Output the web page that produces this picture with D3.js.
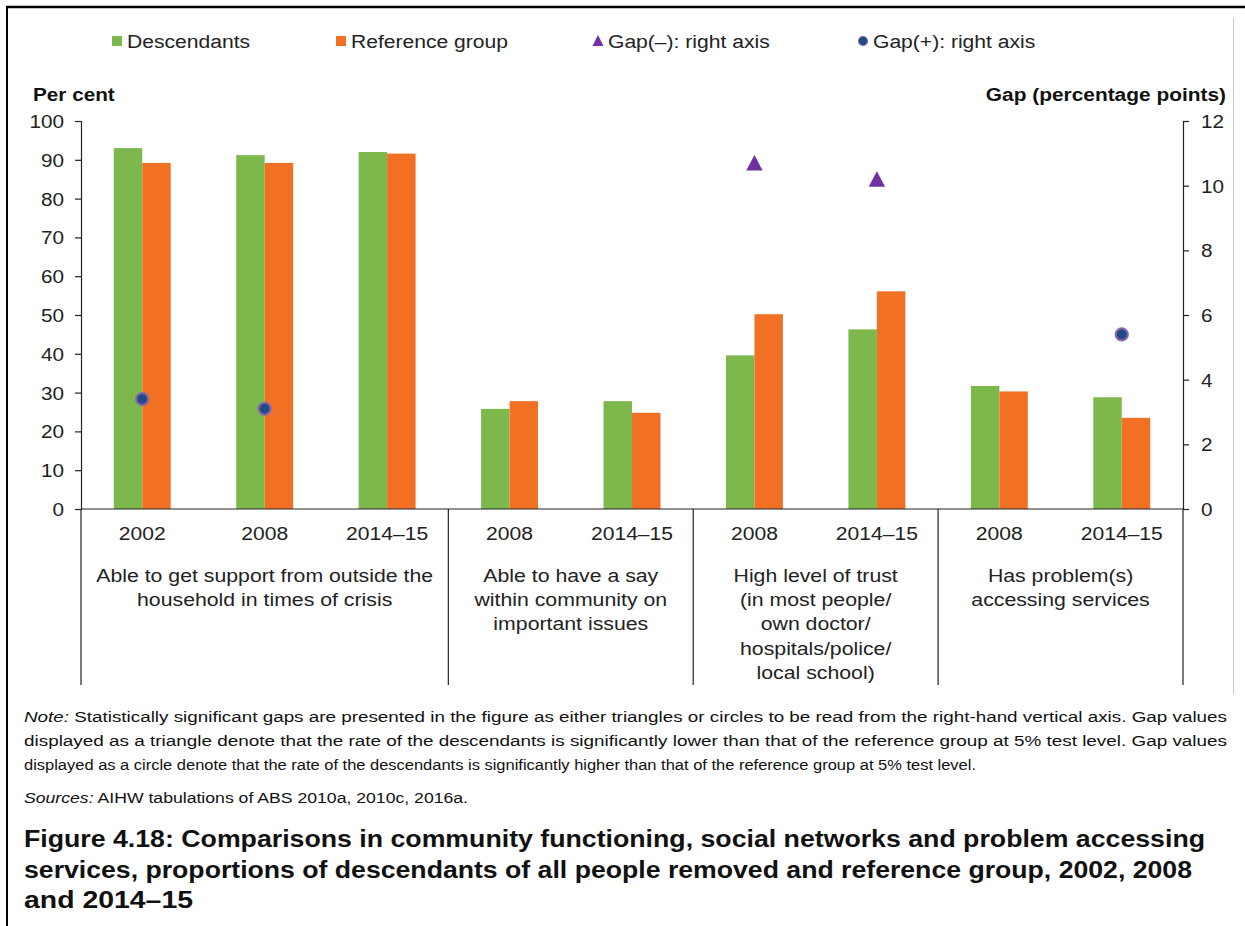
<!DOCTYPE html>
<html>
<head>
<meta charset="utf-8">
<script src="https://cdn.jsdelivr.net/npm/d3@7"></script>
<style>
  body { margin: 0; background: #fff; }
  svg { font-family: "Liberation Sans", Arial, sans-serif; display: block; }
</style>
</head>
<body>
<svg width="1245" height="926"></svg>
<script>
// categories and values
var groupLabels = [
    ["Able to get support from outside the", "household in times of crisis"],
    ["Able to have a say", "within community on", "important issues"],
    ["High level of trust", "(in most people/", "own doctor/", "hospitals/police/", "local school)"],
    ["Has problem(s)", "accessing services"]
];
var periods = [["2002", "2008", "2014–15"], ["2008", "2014–15"], ["2008", "2014–15"], ["2008", "2014–15"]];
var descendants = [93.0, 91.2, 92.0, 25.8, 27.8, 39.6, 46.3, 31.7, 28.8];
var reference = [89.2, 89.2, 91.6, 27.8, 24.8, 50.2, 56.1, 30.3, 23.5];
var gapMinus = [null, null, null, null, null, 10.7, 10.2, null, null];
var gapPlus = [3.4, 3.1, null, null, null, null, null, null, 5.4];
var leftTicks = d3.range(0, 101, 10);
var rightTicks = d3.range(0, 13, 2);

(function () {
    var green = '#7cb84b', orange = '#f17024', purple = '#7030a0', navy = '#1f4a86', ring = '#8465ab';

    var svg = d3.select('svg');

    // the source figure's type is a bit wider than its height suggests
    function stretch(sel, sx) {
        sel.attr('transform', function () {
            var t = d3.select(this), px = +t.attr('x') || 0, py = +t.attr('y') || 0;
            return 'translate(' + px + ',' + py + ') scale(' + sx + ',1) translate(' + (-px) + ',' + (-py) + ')';
        });
    }

    // flatten categories
    var cats = [];
    periods.forEach(function (ps, g) {
        ps.forEach(function (p) { cats.push({ id: cats.length, period: p, group: g }); });
    });

    var pLeft = 81, pRight = 1183, pTop = 121, pBottom = 509;

    var x = d3.scaleBand()
        .domain(cats.map(function (d) { return d.id; }))
        .range([pLeft, pRight])
        .paddingInner(0.535)
        .paddingOuter(0.2675);

    var xSub = d3.scaleBand().domain(['d', 'r']).range([0, x.bandwidth()]);

    var y = d3.scaleLinear().domain([0, 100]).range([pBottom, pTop]);
    var y2 = d3.scaleLinear().domain([0, 12]).range([pBottom, pTop]);

    /* ----------- frame ----------- */
    svg.append('line').attr('x1', 6).attr('x2', 1245).attr('y1', 7).attr('y2', 7)
        .attr('stroke', '#000').attr('stroke-width', 2.5);
    svg.append('line').attr('x1', 7).attr('x2', 7).attr('y1', 6).attr('y2', 926)
        .attr('stroke', '#000').attr('stroke-width', 2);
    svg.append('line').attr('x1', 1233.5).attr('x2', 1233.5).attr('y1', 18).attr('y2', 694)
        .attr('stroke', '#c8c8c8').attr('stroke-width', 1);

    /* ----------- legend ----------- */
    var legend = [
        { label: 'Descendants', type: 'rect', color: green, x: 112 },
        { label: 'Reference group', type: 'rect', color: orange, x: 336 },
        { label: 'Gap(–): right axis', type: 'tri', color: purple, x: 593 },
        { label: 'Gap(+): right axis', type: 'dot', color: navy, x: 858 }
    ];
    var lg = svg.append('g').selectAll('g').data(legend).enter().append('g')
        .attr('transform', function (d) { return 'translate(' + d.x + ',41)'; });
    lg.each(function (d) {
        var g = d3.select(this);
        if (d.type === 'rect') {
            g.append('rect').attr('x', 0).attr('y', -5).attr('width', 10).attr('height', 10).attr('fill', d.color);
        } else if (d.type === 'tri') {
            g.append('path').attr('d', 'M5,-6L10.5,5L-0.5,5Z').attr('fill', d.color);
        } else {
            g.append('circle').attr('cx', 5).attr('cy', 0).attr('r', 4.5).attr('fill', d.color)
                .attr('stroke', ring).attr('stroke-width', 1.2);
        }
    });
    lg.append('text').attr('x', 15).attr('y', 7).attr('font-size', 19).attr('fill', '#222')
        .text(function (d) { return d.label; })
        .call(stretch, 1.11);

    /* ----------- axis titles ----------- */
    svg.append('text').attr('x', 33).attr('y', 101).attr('font-size', 18.5).attr('font-weight', 'bold')
        .attr('fill', '#111').text('Per cent').call(stretch, 1.12);
    svg.append('text').attr('x', 1226).attr('y', 101).attr('font-size', 18.5).attr('font-weight', 'bold')
        .attr('text-anchor', 'end').attr('fill', '#111').text('Gap (percentage points)').call(stretch, 1.13);

    /* ----------- bars ----------- */
    var barG = svg.append('g');
    cats.forEach(function (c) {
        barG.append('rect')
            .attr('x', x(c.id) + xSub('d')).attr('width', xSub.bandwidth())
            .attr('y', y(descendants[c.id])).attr('height', pBottom - y(descendants[c.id]))
            .attr('fill', green);
        barG.append('rect')
            .attr('x', x(c.id) + xSub('r')).attr('width', xSub.bandwidth())
            .attr('y', y(reference[c.id])).attr('height', pBottom - y(reference[c.id]))
            .attr('fill', orange);
    });

    /* ----------- axes ----------- */
    var yAxis = svg.append('g').attr('transform', 'translate(' + pLeft + ',0)')
        .call(d3.axisLeft(y).tickValues(leftTicks).tickSize(6).tickSizeOuter(6).tickPadding(11));
    var y2Axis = svg.append('g').attr('transform', 'translate(' + pRight + ',0)')
        .call(d3.axisRight(y2).tickValues(rightTicks).tickSize(6).tickSizeOuter(6).tickPadding(12));
    [yAxis, y2Axis].forEach(function (a) {
        a.select('.domain').attr('stroke', '#222').attr('stroke-width', 1.2);
        a.selectAll('.tick line').attr('stroke', '#222').attr('stroke-width', 1.2);
        a.selectAll('.tick text').attr('font-size', 18.5).attr('fill', '#222')
            .attr('font-family', '"Liberation Sans", Arial, sans-serif')
            .attr('dy', '0.35em')
            .call(stretch, 1.12);
    });

    // baseline and group separators
    svg.append('line').attr('x1', pLeft).attr('x2', pRight).attr('y1', pBottom).attr('y2', pBottom)
        .attr('stroke', '#222').attr('stroke-width', 1.2);
    var bounds = [0];
    periods.reduce(function (acc, ps) { acc += ps.length; bounds.push(acc); return acc; }, 0);
    svg.append('g').selectAll('line').data(bounds).enter().append('line')
        .attr('x1', function (d) { return pLeft + d * x.step(); })
        .attr('x2', function (d) { return pLeft + d * x.step(); })
        .attr('y1', pBottom).attr('y2', 685)
        .attr('stroke', '#222').attr('stroke-width', 1.2);

    // period labels
    svg.append('g').selectAll('text').data(cats).enter().append('text')
        .attr('x', function (d) { return x(d.id) + x.bandwidth() / 2; })
        .attr('y', 540).attr('text-anchor', 'middle').attr('font-size', 18.5).attr('fill', '#222')
        .text(function (d) { return d.period; })
        .call(stretch, 1.14);

    // group labels
    groupLabels.forEach(function (lines, g) {
        var cx = pLeft + (bounds[g] + bounds[g + 1]) / 2 * x.step();
        svg.append('g').selectAll('text').data(lines).enter().append('text')
            .attr('x', cx).attr('y', function (d, i) { return 582 + i * 24.2; })
            .attr('text-anchor', 'middle').attr('font-size', 18.5).attr('fill', '#222')
            .text(function (d) { return d; })
            .call(stretch, 1.15);
    });

    /* ----------- gap markers ----------- */
    var mid = function (i) { return x(i) + x.bandwidth() / 2; };
    // triangle centred on its bounding box, as the spreadsheet draws it
    var triPath = 'M0,-8L8.2,7.5L-8.2,7.5Z';
    svg.append('g').selectAll('path')
        .data(gapMinus.map(function (v, i) { return { i: i, v: v }; }).filter(function (d) { return d.v !== null; }))
        .enter().append('path')
        .attr('d', triPath)
        .attr('transform', function (d) { return 'translate(' + mid(d.i) + ',' + y2(d.v) + ')'; })
        .attr('fill', purple);
    svg.append('g').selectAll('circle')
        .data(gapPlus.map(function (v, i) { return { i: i, v: v }; }).filter(function (d) { return d.v !== null; }))
        .enter().append('circle')
        .attr('cx', function (d) { return mid(d.i); })
        .attr('cy', function (d) { return y2(d.v); })
        .attr('r', 6).attr('fill', navy).attr('stroke', ring).attr('stroke-width', 2.2);

    /* ----------- notes and title ----------- */
    var noteLines = [
        { it: 'Note:', rest: ' Statistically significant gaps are presented in the figure as either triangles or circles to be read from the right-hand vertical axis. Gap values', w: 1203 },
        { it: '', rest: 'displayed as a triangle denote that the rate of the descendants is significantly lower than that of the reference group at 5% test level. Gap values', w: 1203 },
        { it: '', rest: 'displayed as a circle denote that the rate of the descendants is significantly higher than that of the reference group at 5% test level.', w: 952 }
    ];
    noteLines.forEach(function (l, i) {
        var t = svg.append('text').attr('x', 24).attr('y', 722 + i * 24).attr('font-size', 15.5).attr('fill', '#111')
            .attr('textLength', l.w).attr('lengthAdjust', 'spacingAndGlyphs');
        if (l.it) t.append('tspan').attr('font-style', 'italic').text(l.it);
        t.append('tspan').text(l.rest);
    });
    var src = svg.append('text').attr('x', 24).attr('y', 803).attr('font-size', 15.5).attr('fill', '#111')
        .attr('textLength', 444).attr('lengthAdjust', 'spacingAndGlyphs');
    src.append('tspan').attr('font-style', 'italic').text('Sources:');
    src.append('tspan').text(' AIHW tabulations of ABS 2010a, 2010c, 2016a.');

    var titleLines = [
        { t: 'Figure 4.18: Comparisons in community functioning, social networks and problem accessing', w: 1181 },
        { t: 'services, proportions of descendants of all people removed and reference group, 2002, 2008', w: 1168 },
        { t: 'and 2014–15', w: 169 }
    ];
    svg.append('g').selectAll('text').data(titleLines).enter().append('text')
        .attr('x', 24).attr('y', function (d, i) { return 847 + i * 30.5; })
        .attr('font-size', 23).attr('font-weight', 'bold').attr('fill', '#111')
        .attr('textLength', function (d) { return d.w; }).attr('lengthAdjust', 'spacingAndGlyphs')
        .text(function (d) { return d.t; });
})();
</script>
</body>
</html>
